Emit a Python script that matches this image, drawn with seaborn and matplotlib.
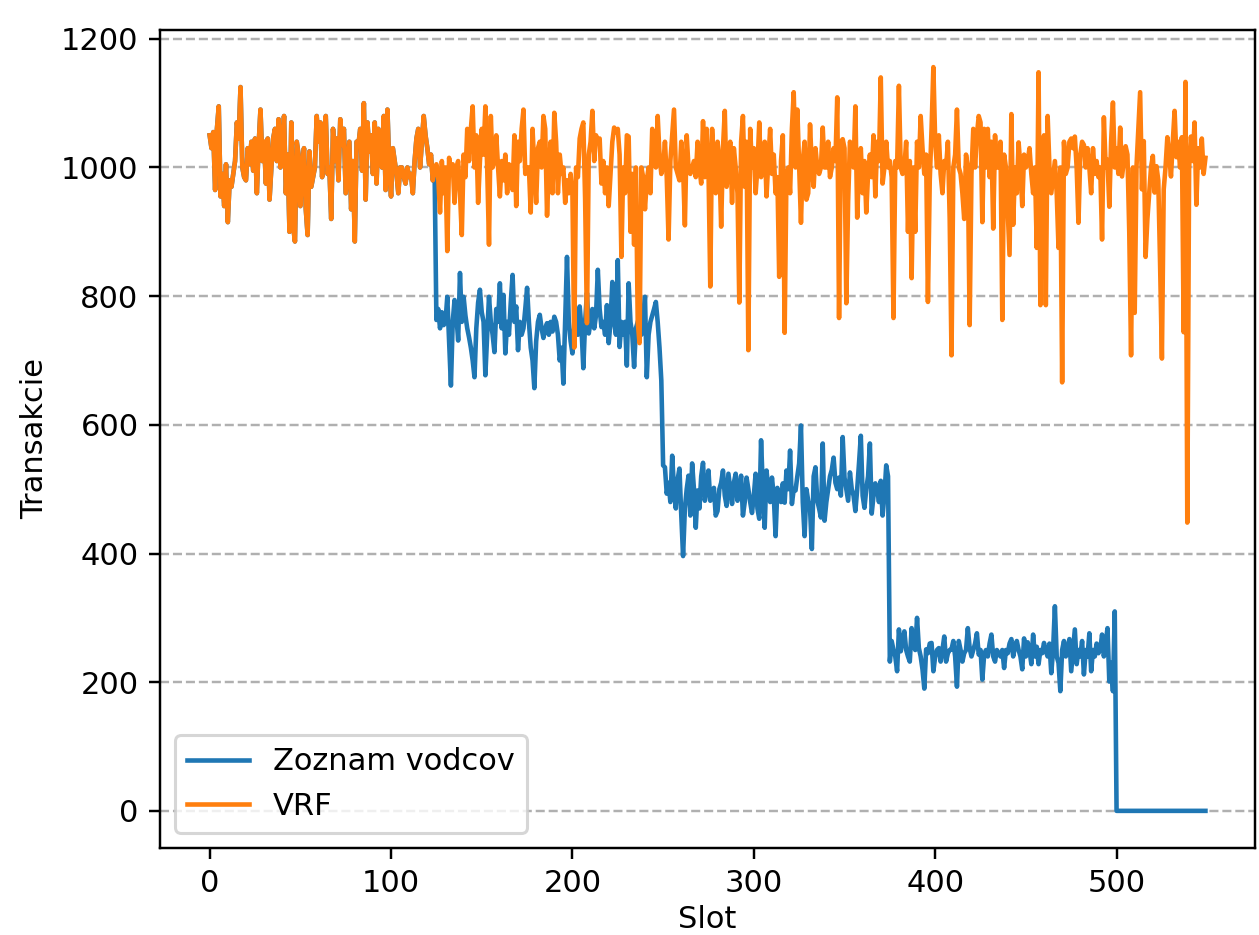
import matplotlib
matplotlib.use("Agg")
import matplotlib.pyplot as plt
import numpy as np
import pandas as pd
import seaborn as sns

# VRF: transactions per slot (slots 0..549)
vrf_tx = [
    1050, 1030, 1055, 965, 1060, 1095, 955, 990, 940, 1005, 915, 980, 970, 990, 1010, 1070, 1045, 1125, 1000, 985, 980, 1030, 1005, 1040, 995,
    1045, 960, 1035, 1090, 1010, 1040, 975, 1045, 950, 1000, 1045, 1060, 1010, 1075, 1000, 1035, 1080, 960, 1020, 900, 1070, 910, 885, 1040, 1020,
    940, 1000, 1030, 935, 895, 1025, 970, 985, 1000, 1080, 1040, 1070, 985, 1050, 1080, 990, 1000, 920, 1060, 1010, 1045, 980, 1075, 1035, 1060,
    960, 1000, 1040, 935, 1010, 885, 1040, 1035, 1060, 995, 1100, 950, 1070, 1025, 1050, 990, 1070, 975, 1060, 1040, 1000, 1080, 965, 1090, 1000,
    955, 1030, 1010, 990, 960, 1000, 1000, 985, 975, 1000, 985, 990, 960, 1010, 1045, 1060, 1000, 1040, 1080, 1050, 1030, 1005, 1020, 980, 995,
    1005, 985, 930, 1010, 960, 1000, 870, 1015, 990, 1005, 945, 1000, 1010, 960, 895, 1020, 985, 1060, 1010, 1060, 1095, 1000, 1050, 945, 1010,
    1060, 1020, 1095, 1000, 880, 1080, 1000, 1010, 1050, 1000, 955, 1010, 980, 1020, 960, 1005, 1000, 965, 1050, 940, 1040, 1010, 1060, 1090, 990,
    1000, 1000, 930, 1060, 1000, 945, 1030, 1040, 1000, 1080, 1060, 925, 1000, 1040, 960, 1085, 1040, 960, 1020, 990, 1000, 945, 980, 960, 990,
    960, 720, 1000, 985, 1045, 1060, 1070, 950, 758, 1020, 1040, 1088, 1010, 1050, 1040, 1045, 975, 1010, 960, 1000, 940, 990, 1040, 1062, 1055,
    1060, 1020, 861, 1000, 960, 1050, 1048, 900, 990, 880, 1000, 760, 727, 1000, 985, 935, 980, 1000, 960, 1060, 1040, 1000, 1080, 1020, 990,
    1000, 1040, 985, 888, 1010, 1050, 1090, 1000, 990, 980, 1040, 1000, 910, 1050, 1000, 990, 1000, 1010, 985, 1040, 1000, 975, 1072, 985, 1060,
    1000, 815, 1060, 1000, 960, 1040, 1010, 908, 1030, 1088, 970, 1000, 1040, 945, 1030, 1000, 960, 790, 1040, 1080, 970, 1040, 716, 1060, 1000,
    1030, 960, 1000, 1070, 985, 1000, 1040, 955, 1010, 1060, 990, 1020, 960, 985, 830, 1010, 1050, 743, 990, 1000, 960, 1060, 1117, 1000, 1090,
    1000, 914, 1010, 1040, 950, 960, 1067, 1000, 970, 1030, 1000, 990, 1000, 1062, 1000, 1000, 1040, 985, 1000, 1030, 1010, 1109, 766, 1040, 1044,
    1030, 789, 947, 1040, 1030, 1000, 1095, 922, 1000, 1030, 960, 1010, 930, 990, 1020, 985, 1050, 955, 1040, 1010, 1140, 975, 1000, 1040, 1000,
    1010, 985, 766, 1010, 1000, 1127, 1000, 990, 1000, 1040, 900, 1010, 828, 1000, 900, 1040, 1000, 1080, 1030, 990, 1020, 791, 980, 1060, 1156,
    1040, 1000, 1050, 990, 960, 1010, 1000, 1040, 920, 708, 1000, 1020, 1090, 1000, 990, 960, 920, 1020, 1000, 755, 990, 1060, 1000, 1050, 1080,
    1070, 915, 1060, 1000, 1060, 985, 1040, 905, 1050, 1000, 1000, 1040, 763, 1020, 1000, 930, 864, 1083, 911, 1000, 960, 1039, 1000, 940, 1020,
    1000, 1010, 1030, 990, 960, 1000, 875, 1148, 786, 1000, 1050, 786, 1080, 1000, 960, 985, 1010, 960, 875, 1000, 666, 1040, 990, 1000, 1040,
    1045, 1030, 1048, 1000, 914, 1020, 1040, 1035, 1000, 1030, 1000, 960, 1030, 990, 1010, 985, 1000, 888, 1078, 1000, 1012, 939, 1040, 1101, 1000,
    1030, 990, 1062, 986, 1010, 1033, 1020, 900, 708, 1000, 774, 1002, 1060, 1117, 966, 1041, 861, 920, 960, 1000, 1018, 961, 1002, 980, 850,
    703, 966, 1000, 1047, 1020, 986, 1040, 1088, 1016, 1040, 1000, 1047, 744, 1133, 448, 1000, 1048, 1010, 1070, 942, 1030, 1000, 1045, 990, 1015,
]

# Leader list: identical to VRF until the first leader drops out at slot 125
leader_all_online = vrf_tx[:125]
leader_one_down = [
    763, 780, 750, 775, 755, 760, 799, 730, 661, 760, 794, 770, 731, 836, 760, 799, 770, 750, 736, 720, 700, 674, 750, 790, 810,
    775, 760, 677, 740, 799, 760, 740, 713, 780, 760, 820, 750, 802, 711, 760, 740, 790, 833, 760, 784, 716, 760, 740, 750, 780,
    813, 760, 720, 700, 657, 730, 760, 771, 750, 735, 750, 758, 740, 760, 745, 768, 760, 740, 700, 720, 664, 760, 861, 760, 730,
    711, 750, 760, 740, 784, 750, 688, 760, 805, 742, 760, 780, 750, 770, 841, 780, 752, 760, 740, 786, 727, 760, 822, 760, 740,
    856, 721, 760, 740, 760, 692, 820, 760, 740, 690, 750, 760, 768, 740, 760, 799, 674, 740, 760, 770, 780, 791, 760, 720, 669,
]
leader_two_down = [
    537, 534, 493, 510, 480, 552, 500, 470, 515, 532, 460, 396, 470, 500, 521, 459, 540, 500, 440, 498, 470, 520, 541, 482, 500,
    529, 482, 490, 502, 459, 466, 500, 510, 529, 490, 474, 524, 500, 477, 510, 524, 482, 500, 521, 459, 480, 518, 500, 480, 463,
    490, 524, 470, 454, 576, 500, 440, 529, 500, 480, 518, 490, 427, 502, 490, 480, 509, 479, 529, 500, 560, 477, 500, 498, 520,
    540, 599, 480, 427, 500, 482, 470, 407, 520, 534, 482, 470, 456, 571, 451, 480, 500, 520, 530, 549, 510, 500, 518, 490, 581,
    518, 500, 482, 526, 500, 490, 466, 500, 540, 583, 490, 471, 500, 520, 571, 462, 490, 509, 500, 480, 513, 459, 490, 537, 520,
]
leader_three_down = [
    232, 264, 250, 240, 217, 282, 248, 265, 279, 250, 240, 232, 284, 260, 250, 300, 253, 240, 220, 190, 251, 245, 260, 261, 217,
    240, 250, 253, 232, 250, 271, 232, 245, 250, 251, 264, 240, 193, 264, 250, 232, 245, 250, 284, 253, 240, 250, 260, 276, 243,
    250, 204, 243, 250, 240, 260, 274, 240, 232, 250, 245, 240, 250, 222, 250, 245, 260, 267, 240, 255, 264, 250, 240, 220, 268,
    240, 262, 250, 228, 274, 240, 255, 228, 250, 245, 261, 248, 240, 260, 214, 250, 318, 240, 230, 186, 250, 264, 240, 250, 267,
    217, 250, 282, 228, 250, 240, 264, 212, 250, 240, 276, 217, 250, 240, 260, 245, 250, 274, 240, 260, 284, 201, 230, 186, 310,
]
leader_all_down = [0] * 50

leader_tx = leader_all_online + leader_one_down + leader_two_down + leader_three_down + leader_all_down

SERIES_LABELS = ["Zoznam vodcov", "VRF"]
DPI = 220


def main() -> None:
    leader_df = pd.DataFrame({"slot": np.arange(len(leader_tx)), "tx": leader_tx})
    vrf_df = pd.DataFrame({"slot": np.arange(len(vrf_tx)), "tx": vrf_tx})

    fig, ax = plt.subplots(figsize=(1259 / DPI, 935 / DPI), dpi=DPI)
    fig.subplots_adjust(left=0.127, right=0.997, bottom=0.093, top=0.968)

    sns.lineplot(data=leader_df, x="slot", y="tx", ax=ax, color="tab:blue", label=SERIES_LABELS[0])
    sns.lineplot(data=vrf_df, x="slot", y="tx", ax=ax, color="tab:orange", label=SERIES_LABELS[1])

    ax.grid(axis="y", linestyle="--")
    ax.set_xlabel("Slot", labelpad=2)
    ax.set_ylabel("Transakcie")
    ax.legend(loc="lower left")

    fig.savefig("out.png", dpi=DPI)
    plt.close(fig)


if __name__ == "__main__":
    main()
